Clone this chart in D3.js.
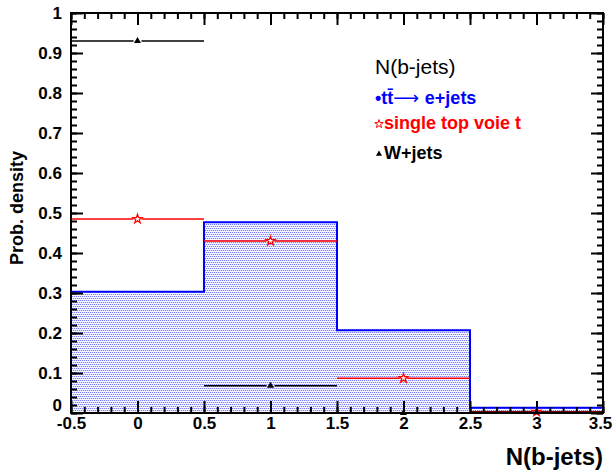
<!DOCTYPE html>
<html><head><meta charset="utf-8">
<script src="https://cdn.jsdelivr.net/npm/d3@7"></script>
<style>
html,body{margin:0;padding:0;background:#fff;}
svg{display:block;font-family:"Liberation Sans",Arial,Helvetica,sans-serif;}
</style></head>
<body>
<svg id="c" width="614" height="472"></svg>
<script>
// ---- data ----
const binCenters = [0, 1, 2, 3];
const binEdges = [-0.5, 0.5, 1.5, 2.5, 3.5];
const ttbarValues = [0.303, 0.477, 0.207, 0.013];
const singleTopValues = [0.485, 0.430, 0.087, 0.003];
const wjetsValues = [0.930, 0.068, 0.0, 0.002];
const xTickValues = [-0.5, 0, 0.5, 1, 1.5, 2, 2.5, 3, 3.5];
const yTickValues = [0, 0.1, 0.2, 0.3, 0.4, 0.5, 0.6, 0.7, 0.8, 0.9, 1];
const legendTitle = "N(b-jets)";
const xTitle = "N(b-jets)";
const yTitle = "Prob. density";

const svg = d3.select("#c");
const L = 71, R = 603, T = 13, B = 413;
const x = d3.scaleLinear().domain([-0.5, 3.5]).range([L, R]);
const y = d3.scaleLinear().domain([0, 1]).range([B, T]);

// pattern fill
const defs = svg.append("defs");
const pat = defs.append("pattern").attr("id", "dots").attr("patternUnits", "userSpaceOnUse")
  .attr("width", 4).attr("height", 4);
pat.append("rect").attr("width", 4).attr("height", 4).attr("fill", "#f7f7ff");
[[0,0],[2,0],[1,2],[3,2]].forEach(([a,b]) =>
  pat.append("rect").attr("x", a).attr("y", b).attr("width", 1).attr("height", 1).attr("fill", "#7c7cff"));
[[1,0],[3,0],[0,2],[2,2]].forEach(([a,b]) =>
  pat.append("rect").attr("x", a).attr("y", b).attr("width", 1).attr("height", 1).attr("fill", "#dcdcff"));

// histogram (ttbar)
const stepPts = [[binEdges[0], 0]];
ttbarValues.forEach((v, i) => { stepPts.push([binEdges[i], v]); stepPts.push([binEdges[i+1], v]); });
stepPts.push([binEdges[binEdges.length-1], 0]);
const line = d3.line().x(d => x(d[0])).y(d => y(d[1]));
svg.append("path").attr("d", line(stepPts) + "Z").attr("fill", "url(#dots)").attr("stroke", "none");
svg.append("path").attr("d", line(stepPts)).attr("fill", "none").attr("stroke", "#0000ff").attr("stroke-width", 2);

// point series with horizontal bars
function drawSeries(vals, color, symbol, size, fill, gap, sw) {
  const g = svg.append("g");
  vals.forEach((v, i) => {
    const cx = x(binCenters[i]), cy = y(v);
    g.append("line").attr("x1", x(binEdges[i])).attr("x2", cx - gap).attr("y1", cy).attr("y2", cy)
      .attr("stroke", color).attr("stroke-width", 1.6);
    g.append("line").attr("x1", cx + gap).attr("x2", x(binEdges[i+1])).attr("y1", cy).attr("y2", cy)
      .attr("stroke", color).attr("stroke-width", 1.6);
    g.append("path").attr("d", d3.symbol().type(symbol).size(size)())
      .attr("transform", `translate(${cx},${cy})`)
      .attr("fill", fill).attr("stroke", color).attr("stroke-width", sw);
  });
}
drawSeries(singleTopValues, "#ff0000", d3.symbolStar, 26, "#ffffff", 4, 1.2);
drawSeries(wjetsValues, "#000000", d3.symbolTriangle, 22, "#000000", 4, 0);

// axes
const fmt = d => String(+d.toFixed(2));
const tickFont = g => g.selectAll("text").attr("font-size", 17).attr("font-weight", "bold")
  .attr("font-family", "Liberation Sans, Arial, sans-serif").attr("fill", "#000");
const xMinor = d3.range(-0.5, 3.5001, 0.1).map(v => +v.toFixed(2));
const yMinor = d3.range(0, 1.0001, 0.02).map(v => +v.toFixed(2));

function styleAxis(g) {
  g.select(".domain").remove();
  g.selectAll("line").attr("stroke", "#000").attr("stroke-width", 2);
}
// bottom
svg.append("g").attr("transform", `translate(0,${B})`)
  .call(d3.axisBottom(x).tickValues(xMinor).tickSize(-6).tickFormat(""))
  .call(styleAxis);
const xAx = svg.append("g").attr("transform", `translate(0,${B})`)
  .call(d3.axisBottom(x).tickValues(xTickValues).tickSize(-12).tickPadding(4).tickFormat(fmt))
  .call(styleAxis).call(tickFont);
xAx.selectAll(".tick").filter(d => d === 3.5).select("text").attr("dx", -3);
// top
svg.append("g").attr("transform", `translate(0,${T})`)
  .call(d3.axisTop(x).tickValues(xMinor).tickSize(-6).tickFormat("")).call(styleAxis);
svg.append("g").attr("transform", `translate(0,${T})`)
  .call(d3.axisTop(x).tickValues(xTickValues).tickSize(-12).tickFormat("")).call(styleAxis);
// left
svg.append("g").attr("transform", `translate(${L},0)`)
  .call(d3.axisLeft(y).tickValues(yMinor).tickSize(-6).tickFormat("")).call(styleAxis);
const yAx = svg.append("g").attr("transform", `translate(${L},0)`)
  .call(d3.axisLeft(y).tickValues(yTickValues).tickSize(-12).tickPadding(9).tickFormat(fmt))
  .call(styleAxis).call(tickFont);
yAx.selectAll(".tick").filter(d => d === 0).select("text").attr("dy", "-0.15em");
// right
svg.append("g").attr("transform", `translate(${R},0)`)
  .call(d3.axisRight(y).tickValues(yMinor).tickSize(-6).tickFormat("")).call(styleAxis);
svg.append("g").attr("transform", `translate(${R},0)`)
  .call(d3.axisRight(y).tickValues(yTickValues).tickSize(-12).tickFormat("")).call(styleAxis);

// frame
svg.append("rect").attr("x", L).attr("y", T).attr("width", R - L).attr("height", B - T)
  .attr("fill", "none").attr("stroke", "#000").attr("stroke-width", 2);

// axis titles
svg.append("text").attr("x", R).attr("y", 465).attr("text-anchor", "end")
  .attr("font-size", 24).attr("font-weight", "bold").text(xTitle);
svg.append("text").attr("transform", "translate(23,208) rotate(-90)").attr("text-anchor", "middle")
  .attr("font-size", 18).attr("font-weight", "bold").text(yTitle);

// legend
const lx = 375;
svg.append("text").attr("x", lx).attr("y", 74).attr("font-size", 21).text(legendTitle);
const t1 = svg.append("text").attr("x", lx).attr("y", 104).attr("font-size", 18)
  .attr("font-weight", "bold").attr("fill", "#0000ff");
t1.append("tspan").text("\u2022");
t1.append("tspan").text("tt\u0304");
t1.append("tspan").attr("font-weight", "normal").attr("font-family", "DejaVu Sans").text("\u27F6 ");
t1.append("tspan").text("e+jets");

svg.append("path").attr("d", d3.symbol().type(d3.symbolStar).size(22)())
  .attr("transform", `translate(${lx + 4},${124})`).attr("fill", "#fff").attr("stroke", "#ff0000").attr("stroke-width", 1);
svg.append("text").attr("x", lx + 9).attr("y", 129).attr("font-size", 18)
  .attr("font-weight", "bold").attr("fill", "#ff0000").text("single top voie t");

svg.append("path").attr("d", d3.symbol().type(d3.symbolTriangle).size(16)())
  .attr("transform", `translate(${lx + 4},${154})`).attr("fill", "#000");
svg.append("text").attr("x", lx + 9).attr("y", 159).attr("font-size", 18)
  .attr("font-weight", "bold").attr("fill", "#000").text("W+jets");
</script>
</body></html>
